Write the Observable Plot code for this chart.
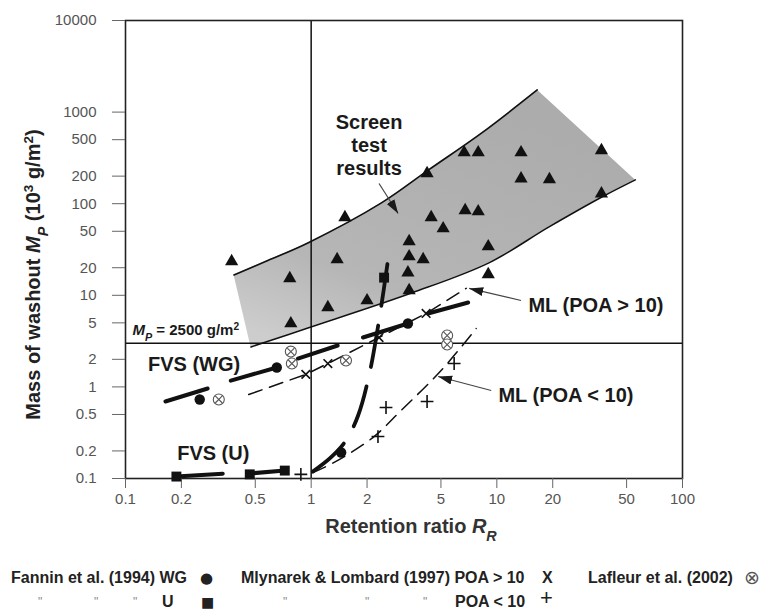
<!DOCTYPE html>
<html>
<head>
<meta charset="utf-8">
<script src="https://cdn.jsdelivr.net/npm/d3@7"></script>
<script src="https://cdn.jsdelivr.net/npm/@observablehq/plot@0.6"></script>
<style>
  html, body { margin: 0; padding: 0; background: #fff; }
  #wrap { width: 759px; }
  #legend { position: relative; width: 759px; height: 55px; font: bold 16px "Liberation Sans", Arial, sans-serif; color: #222; overflow: hidden; }
  #legend span { position: absolute; line-height: 18px; white-space: nowrap; }
  #legend .dit { color: #8a8a8a; font-size: 12px; font-weight: normal; }
  #legend .sym { font-family: "DejaVu Sans", sans-serif; font-weight: normal; }
</style>
</head>
<body>
<div id="wrap">
  <div id="chart"></div>
  <div id="legend">
    <span style="left:11px;top:14px">Fannin et al. (1994) WG</span>
    <span class="sym" style="left:200px;top:14px;font-size:15px">●</span>
    <span style="left:241px;top:14px">Mlynarek &amp; Lombard (1997) POA &gt; 10</span>
    <span style="left:542px;top:14px">X</span>
    <span style="left:588px;top:14px">Lafleur et al. (2002)</span>
    <span class="sym" style="left:744px;top:13px;color:#555;font-size:19px">⊗</span>
    <span class="dit" style="left:38px;top:38px">"</span>
    <span class="dit" style="left:94px;top:38px">"</span>
    <span class="dit" style="left:133px;top:38px">"</span>
    <span style="left:162px;top:38px">U</span>
    <span class="sym" style="left:201px;top:38px;font-size:14px">■</span>
    <span class="dit" style="left:283px;top:38px">"</span>
    <span class="dit" style="left:365px;top:38px">"</span>
    <span class="dit" style="left:423px;top:38px">"</span>
    <span style="left:455px;top:38px">POA &lt; 10</span>
    <span style="left:540px;top:34px;font-size:22px;font-weight:normal">+</span>
  </div>
</div>
<script>
// ---- tick labels ----
const xTicks = [0.1, 0.2, 0.5, 1, 2, 5, 10, 20, 50, 100];
const yTicks = [0.1, 0.2, 0.5, 1, 2, 5, 10, 20, 50, 100, 200, 500, 1000, 10000];

// ---- reference lines ----
const rrOne = 1;          // R_R = 1
const mpLimit = 3;        // drawn where the reference draws the Mp = 2500 g/m2 line

// ---- screen test results (triangles) [R_R, Mp] ----
const screenTests = [
  [0.373, 23.4], [0.767, 15.3], [0.777, 4.92], [1.52, 70.7], [1.38, 24.6],
  [1.23, 7.36], [2.0, 8.77], [3.37, 38.7], [3.37, 26.5], [4.01, 24.6],
  [3.32, 17.7], [3.37, 11.3], [4.21, 214], [4.43, 70.7], [5.14, 53.6],
  [6.75, 84.3], [7.94, 82.2], [6.67, 362], [7.94, 362], [13.5, 362],
  [36.6, 381], [13.5, 188], [19.2, 184], [36.6, 129], [8.99, 34.1], [8.99, 16.9]
];

// ---- screen test band edges ----
const bandUpper = [[0.384, 16.7], [0.584, 24], [0.96, 37.3], [2.39, 102], [4.29, 234], [8.3, 593], [16.5, 1746]];
const bandLower = [[0.474, 2.73], [0.96, 4.4], [3.47, 10.6], [9.06, 22.6], [19.1, 55.8], [37, 119], [55.7, 182]];

// ---- Fannin et al. (1994) ----
const fanninWG = [[0.251, 0.728], [0.653, 1.63], [3.32, 4.92], [1.45, 0.192]];
const fanninU = [[0.188, 0.105], [0.467, 0.111], [0.721, 0.122], [2.47, 15.6]];
const fvsWGLines = [
  [[0.164, 0.693], [0.277, 0.961]],
  [[0.369, 1.17], [0.653, 1.63]],
  [[0.848, 2.04], [1.39, 2.83]],
  [[1.90, 3.46], [3.32, 4.92]],
  [[4.26, 6.33], [7.01, 8.35]]
];
const fvsULines = [
  [[0.188, 0.105], [0.334, 0.113]],
  [[0.456, 0.113], [0.721, 0.122]]
];
const steepLine = [[1.02, 0.119], [1.277, 0.170], [1.54, 0.26], [1.79, 0.487], [2.05, 1.33], [2.32, 5.31], [2.66, 35.0]];

// ---- Mlynarek & Lombard (1997) ----
const poaHigh = [[0.936, 1.37], [1.23, 1.80], [2.32, 3.46], [4.16, 6.33]];
const poaHighLine = [[0.461, 0.826], [0.936, 1.37], [1.23, 1.80], [2.32, 3.46], [4.16, 6.33], [6.84, 11.9]];
const poaLow = [[0.88, 0.111], [2.29, 0.287], [2.53, 0.596], [4.21, 0.693], [5.89, 1.80]];
const poaLowLine = [[1.02, 0.116], [1.33, 0.150], [2.15, 0.280], [3.05, 0.553], [5.01, 1.51], [7.74, 4.34]];

// ---- Lafleur et al. (2002) ----
const lafleur = [[0.777, 2.43], [0.787, 1.80], [0.318, 0.729], [1.54, 1.94], [5.40, 3.64], [5.40, 2.90]];

// ---- annotations ----
const labelsCentered = [
  {x: 2.05, y: 443, text: "Screen\ntest\nresults"},
  {x: 0.234, y: 1.80, text: "FVS (WG)"},
  {x: 0.297, y: 0.192, text: "FVS (U)"}
];
const labelsLeft = [
  {x: 14.8, y: 7.74, text: "ML (POA > 10)"},
  {x: 10.2, y: 0.806, text: "ML (POA < 10)"}
];
const arrows = [
  {x1: 2.32, y1: 166, x2: 2.94, y2: 78.2},
  {x1: 13.5, y1: 8.77, x2: 7.10, y2: 11.9},
  {x1: 9.33, y1: 0.914, x2: 4.83, y2: 1.30}
];
const mpLabel = {x: 0.109, y: 4.13};

const Y_TITLE = "@@YTITLE@@", X_TITLE = "@@XTITLE@@", MP_TEXT = "@@MP@@";

const pts = a => a.map(([x, y]) => ({x, y}));
const segs = a => a.flatMap((s, i) => s.map(([x, y]) => ({x, y, z: i})));
const band = bandUpper.map((u, i) => ({x1: u[0], y1: u[1], x2: bandLower[i][0], y2: bandLower[i][1]}));

const FONT = "'Liberation Sans', Arial, Helvetica, sans-serif";

const chart = Plot.plot({
  width: 759,
  height: 555,
  marginTop: 20,
  marginLeft: 125,
  marginRight: 77,
  marginBottom: 77,
  style: {fontFamily: FONT, fontSize: "15px", background: "#fff"},
  x: {type: "log", domain: [0.1, 100]},
  y: {type: "log", domain: [0.1, 10000]},
  marks: [
    Plot.area(band, {x1: "x1", y1: "y1", x2: "x2", y2: "y2", fill: "#b4b4b4", curve: "catmull-rom"}),
    Plot.line(pts(bandUpper), {x: "x", y: "y", stroke: "#111", strokeWidth: 1.6, curve: "catmull-rom"}),
    Plot.line(pts(bandLower), {x: "x", y: "y", stroke: "#111", strokeWidth: 1.6, curve: "catmull-rom"}),
    Plot.ruleX([rrOne], {stroke: "#111", strokeWidth: 1.5}),
    Plot.ruleY([mpLimit], {stroke: "#111", strokeWidth: 1.5}),
    Plot.frame({stroke: "#222", strokeWidth: 1.6}),
    // tick lines (labels drawn below with text marks so that log thinning does not drop 5s)
    Plot.axisX(xTicks, {tickFormat: () => "", tickSize: 10, color: "#666", label: null}),
    Plot.axisY(yTicks, {tickFormat: () => "", tickSize: 13, color: "#666", label: null}),
    Plot.text(xTicks, {x: d => d, text: d => String(d), frameAnchor: "bottom", dy: 25, fontSize: 15, fill: "#555"}),
    Plot.text(yTicks, {y: d => d, text: d => String(d), frameAnchor: "left", textAnchor: "end", dx: -29, fontSize: 15, fill: "#555"}),
    Plot.dot(pts(screenTests), {x: "x", y: "y", symbol: "triangle", r: 4.9, fill: "#111", stroke: "none"}),
    Plot.line(pts(poaHighLine), {x: "x", y: "y", stroke: "#111", strokeWidth: 1.5, strokeDasharray: "14,8"}),
    Plot.line(pts(poaLowLine), {x: "x", y: "y", stroke: "#111", strokeWidth: 1.5, strokeDasharray: "14,8", curve: "catmull-rom"}),
    Plot.line(pts(steepLine), {x: "x", y: "y", stroke: "#111", strokeWidth: 3.8, strokeDasharray: "42,20", curve: "catmull-rom"}),
    Plot.line(segs(fvsWGLines), {x: "x", y: "y", z: "z", stroke: "#111", strokeWidth: 4}),
    Plot.line(segs(fvsULines), {x: "x", y: "y", z: "z", stroke: "#111", strokeWidth: 4}),
    Plot.dot(pts(fanninWG), {x: "x", y: "y", r: 5.2, fill: "#111", stroke: "none"}),
    Plot.dot(pts(fanninU), {x: "x", y: "y", symbol: "square", r: 5.6, fill: "#111", stroke: "none"}),
    Plot.dot(pts(poaHigh), {x: "x", y: "y", symbol: "times", r: 4, stroke: "#111", strokeWidth: 1.6, fill: "none"}),
    Plot.dot(pts(poaLow), {x: "x", y: "y", symbol: "plus", r: 4.2, stroke: "#111", strokeWidth: 1.6, fill: "none"}),
    Plot.dot(pts(lafleur), {x: "x", y: "y", r: 5.5, stroke: "#555", strokeWidth: 1.1, fill: "#fff"}),
    Plot.dot(pts(lafleur), {x: "x", y: "y", symbol: "times", r: 3.3, stroke: "#555", strokeWidth: 1.1}),
    Plot.link(arrows, {x1: "x1", y1: "y1", x2: "x2", y2: "y2", stroke: "#444", strokeWidth: 1.2}),
    Plot.text(labelsCentered, {x: "x", y: "y", text: "text", textAnchor: "middle", fontSize: 20, fontWeight: "bold", fill: "#1a1a1a", lineHeight: 1.15}),
    Plot.text(labelsLeft, {x: "x", y: "y", text: "text", textAnchor: "start", fontSize: 20, fontWeight: "bold", fill: "#1a1a1a"}),
    Plot.text([MP_TEXT], {x: () => mpLabel.x, y: () => mpLabel.y, textAnchor: "start", fontSize: 15, fontWeight: "bold", fill: "#1a1a1a"}),
    Plot.text([Y_TITLE], {frameAnchor: "left", textAnchor: "middle", dx: -92, dy: 25, rotate: -90, fontSize: 20, fontWeight: "bold", fill: "#222"}),
    Plot.text([X_TITLE], {frameAnchor: "bottom", textAnchor: "middle", dx: 7, dy: 54, fontSize: 20, fontWeight: "bold", fill: "#333"})
  ]
});

const svg = d3.select(chart.tagName.toLowerCase() === "svg" ? chart : chart.querySelector("svg"));

// filled arrow heads
const defs = svg.insert("defs", ":first-child");
defs.append("marker")
  .attr("id", "ahead").attr("viewBox", "0 -5 14 10").attr("refX", 14).attr("refY", 0)
  .attr("markerWidth", 14).attr("markerHeight", 10).attr("markerUnits", "userSpaceOnUse").attr("orient", "auto")
  .append("path").attr("d", "M0,-4.5L14,0L0,4.5Z").attr("fill", "#1a1a1a");
svg.selectAll('g[aria-label="link"] path').attr("marker-end", "url(#ahead)");

// band shading
const grad = defs.append("linearGradient").attr("id", "bandGrad")
  .attr("x1", 0.7).attr("y1", 0.1).attr("x2", 0.15).attr("y2", 1);
grad.append("stop").attr("offset", 0).attr("stop-color", "#acacac");
grad.append("stop").attr("offset", 0.7).attr("stop-color", "#b6b6b6");
grad.append("stop").attr("offset", 1).attr("stop-color", "#cdcdcd");
svg.selectAll('g[aria-label="area"] path').attr("fill", "url(#bandGrad)");

// rich text (italic / sub / superscripts)
function rich(placeholder, parts) {
  svg.selectAll("text").filter(function () { return this.textContent === placeholder; }).each(function () {
    const t = d3.select(this);
    t.text(null);
    for (const p of parts) {
      const s = t.append("tspan").text(p.t);
      if (p.i) s.attr("font-style", "italic");
      if (p.sub) s.attr("font-size", "72%").attr("baseline-shift", "sub");
      if (p.sup) s.attr("font-size", "68%").attr("baseline-shift", "super");
    }
  });
}
rich(Y_TITLE, [{t: "Mass of washout "}, {t: "M", i: 1}, {t: "P", i: 1, sub: 1}, {t: " (10"}, {t: "3", sup: 1}, {t: " g/m"}, {t: "2", sup: 1}, {t: ")"}]);
rich(X_TITLE, [{t: "Retention ratio "}, {t: "R", i: 1}, {t: "R", i: 1, sub: 1}]);
rich(MP_TEXT, [{t: "M", i: 1}, {t: "P", i: 1, sub: 1}, {t: " = 2500 g/m"}, {t: "2", sup: 1}]);

document.getElementById("chart").appendChild(chart);
</script>
</body>
</html>
